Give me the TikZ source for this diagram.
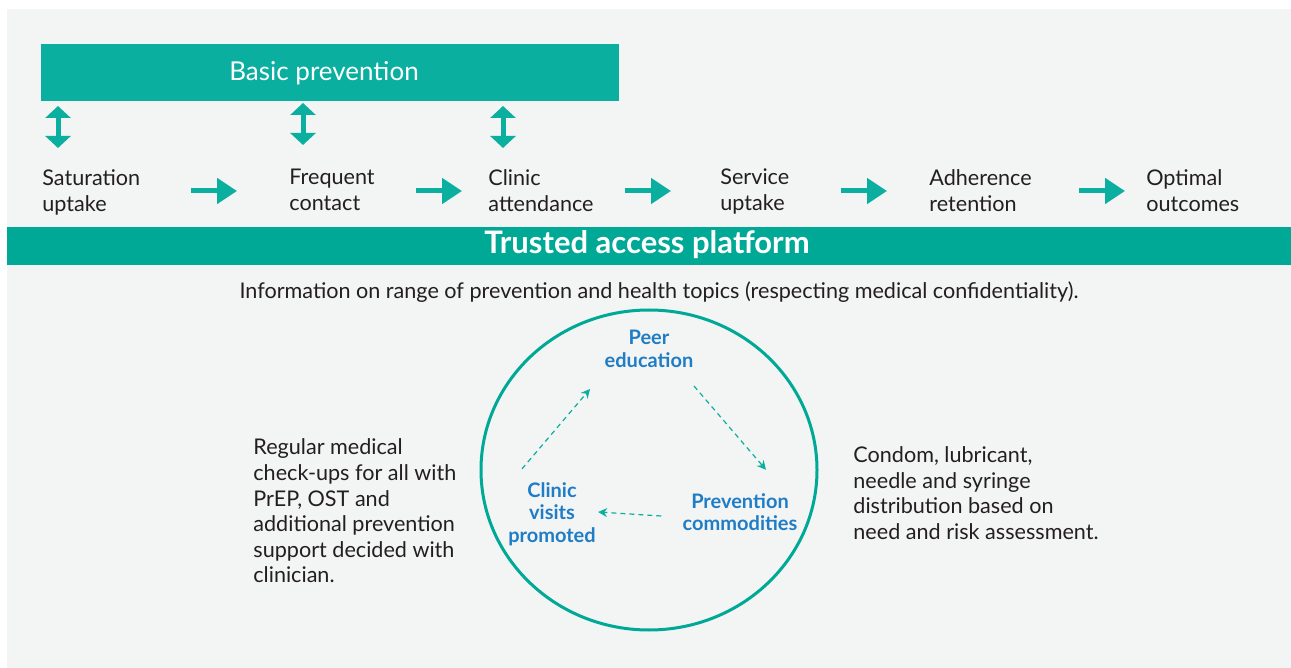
\documentclass[tikz,border=0pt]{standalone}
\usepackage{fontspec}
\setmainfont{Lato}
\usetikzlibrary{arrows.meta}

\definecolor{barteal}{HTML}{0AAF9F}
\definecolor{platteal}{HTML}{00A896}
\definecolor{paper}{HTML}{F3F4F4}
\definecolor{ink}{HTML}{231F20}
\definecolor{cycleblue}{HTML}{1F7DC6}

\tikzset{
  steplabel/.style={anchor=west, align=left, inner sep=0pt, text=ink,
    font=\fontsize{10.8}{13}\selectfont,
    execute at begin node=\strut, execute at end node=\strut},
  flow/.style={draw=barteal, line width=2.5pt, -{Triangle[length=10pt,width=12.5pt]}},
  updown/.style={draw=barteal, line width=2.5pt,
    {Triangle[length=6pt,width=12.5pt]}-{Triangle[length=6pt,width=12.5pt]}},
  cyclelabel/.style={align=center, inner sep=0pt, text=cycleblue,
    font=\fontsize{10}{11.3}\selectfont\bfseries},
  cyclearrow/.style={draw=barteal, line width=0.6pt, dash pattern=on 2.5pt off 2pt,
    -{Stealth[length=4.5pt,width=4.5pt]}},
  note/.style={anchor=west, align=left, inner sep=0pt, text=ink,
    font=\fontsize{10.8}{12.8}\selectfont},
}

\begin{document}
\begin{tikzpicture}[x=0.5pt, y=-0.5pt]
\useasboundingbox (0,0) rectangle (1291,668);
\fill[paper] (7,9) rectangle (1291,668);

% top bar
\node[fill=barteal, anchor=north west, inner sep=0pt,
  minimum width=289pt, minimum height=28.5pt] (basic) at (41,44) {};
\node[text=white, inner sep=0pt, font=\fontsize{13}{15}\selectfont] (basiclabel) at (324,73) {Basic prevention};

% steps
\node[steplabel] (sat) at (42,194) {Saturation\\uptake};
\node[steplabel] (freq) at (289,194) {Frequent\\contact};
\node[steplabel] (clinic) at (488,194) {Clinic\\attendance};
\node[steplabel] (service) at (720,194) {Service\\uptake};
\node[steplabel] (adher) at (929,194) {Adherence\\retention};
\node[steplabel] (optimal) at (1146,194) {Optimal\\outcomes};

\coordinate (a1) at (191,191);
\coordinate (a2) at (416,191);
\coordinate (a3) at (625,191);
\coordinate (a4) at (841,191);
\coordinate (a5) at (1079,191);
\foreach \a in {a1,a2,a3,a4,a5}
  \draw[flow] (\a) -- ++(46,0);

\coordinate (u1) at (58,106);
\coordinate (u2) at (303,103);
\coordinate (u3) at (503,106);
\foreach \u in {u1,u2,u3}
  \draw[updown] (\u) -- ++(0,42);

% platform
\node[fill=platteal, anchor=north west, inner sep=0pt,
  minimum width=642pt, minimum height=19pt] (platform) at (7,227) {};
\node[text=white, inner sep=0pt, font=\fontsize{15.5}{17}\selectfont\bfseries] (platlabel) at (647,245) {Trusted access platform};

\node[inner sep=0pt, text=ink, font=\fontsize{10.8}{13}\selectfont] (info) at (659,292)
  {Information on range of prevention and health topics (respecting medical confidentiality).};

% cycle
\draw[platteal, line width=1.5pt] (649,470) ellipse [x radius=168, y radius=160];
\node[cyclelabel] (peer) at (649,349) {Peer\\education};
\node[cyclelabel] (commod) at (740,512) {Prevention\\commodities};
\node[cyclelabel] (visits) at (552,514) {Clinic\\visits\\promoted};

\draw[cyclearrow] ([xshift=-15pt,yshift=6.5pt]visits.north) -- ([xshift=-29.5pt,yshift=-10.5pt]peer.south);
\draw[cyclearrow] ([xshift=22.5pt,yshift=-9pt]peer.south) -- ([xshift=13pt,yshift=11.5pt]commod.north);
\draw[cyclearrow] ([xshift=-10.5pt,yshift=-2pt]commod.west) -- ([xshift=1pt,yshift=1pt]visits.east);

% side notes
\node[note] (checkups) at (253,511) {Regular medical\\check-ups for all with\\PrEP, OST and\\additional prevention\\support decided with\\clinician.};
\node[note] (condoms) at (853,493) {Condom, lubricant,\\needle and syringe\\distribution based on\\need and risk assessment.};
\end{tikzpicture}
\end{document}
